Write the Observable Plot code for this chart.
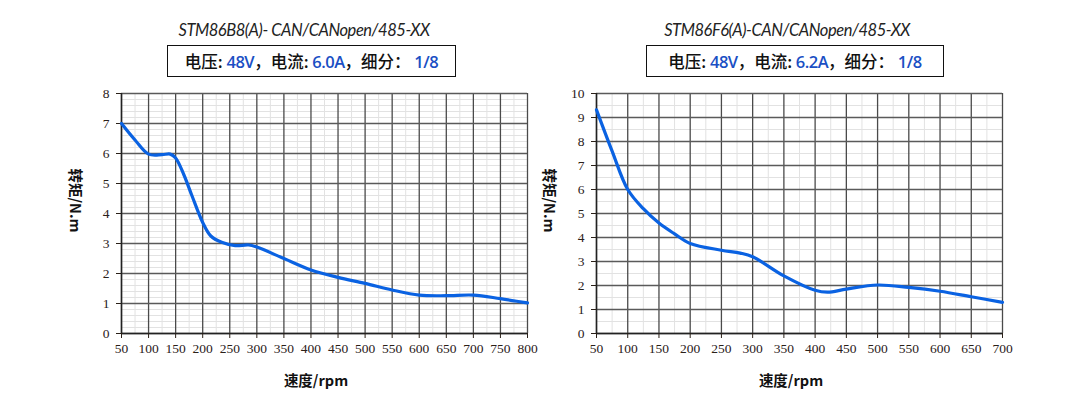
<!DOCTYPE html>
<html><head><meta charset="utf-8">
<script src="https://cdn.jsdelivr.net/npm/d3@7"></script>
<script src="https://cdn.jsdelivr.net/npm/@observablehq/plot@0.6"></script>
<style>
body{margin:0;background:#fff;}
#wrap{position:relative;width:1087px;height:402px;overflow:hidden;background:#fff;font-family:"Noto Sans CJK SC","Noto Sans",sans-serif;}
.title{position:absolute;top:20px;font-family:"Lato","Open Sans",sans-serif;font-style:italic;font-size:16.5px;letter-spacing:-0.45px;color:#222;text-align:center;white-space:nowrap;}
.box{position:absolute;top:45px;height:32px;border:1.3px solid #111;box-sizing:border-box;font-size:16.5px;line-height:30px;text-align:center;color:#111;white-space:nowrap;font-weight:500;}
.box .v{color:#1a4fc4;font-family:"Open Sans","Noto Sans",sans-serif;font-weight:600;letter-spacing:-0.5px;}
.plot{position:absolute;top:85px;}
.ylab{position:absolute;font-weight:bold;font-size:14.5px;color:#111;transform:rotate(90deg);transform-origin:center;white-space:nowrap;}
.xlab{position:absolute;top:369px;font-weight:bold;font-size:14.5px;color:#111;white-space:nowrap;text-align:center;width:200px;}
</style>
</head><body>
<div id="wrap"></div>
<script>
// Chart 1 : STM86B8
const title1 = "STM86B8(A)- CAN/CANopen/485-XX";
const speed1 = [50,75,100,125,140,150,165,180,200,215,235,260,285,300,350,400,450,500,550,600,650,700,750,800];
const torque1 = [7.0,6.45,5.98,5.96,5.98,5.85,5.3,4.6,3.7,3.25,3.04,2.93,2.95,2.88,2.5,2.12,1.87,1.67,1.45,1.28,1.26,1.28,1.16,1.02];
const xTicks1 = [50,100,150,200,250,300,350,400,450,500,550,600,650,700,750,800];
const yTicks1 = [0,1,2,3,4,5,6,7,8];
const params1 = {voltage:"48V", current:"6.0A", step:"1/8"};

// Chart 2 : STM86F6
const title2 = "STM86F6(A)-CAN/CANopen/485-XX";
const speed2 = [50,75,100,125,150,175,200,250,280,300,350,400,420,450,500,550,600,650,700];
const torque2 = [9.32,7.6,6.0,5.2,4.6,4.15,3.75,3.47,3.35,3.2,2.4,1.8,1.72,1.85,2.02,1.92,1.76,1.53,1.3];
const xTicks2 = [50,100,150,200,250,300,350,400,450,500,550,600,650,700];
const yTicks2 = [0,1,2,3,4,5,6,7,8,9,10];
const params2 = {voltage:"48V", current:"6.2A", step:"1/8"};

const xLabel = "速度/rpm";
const yLabel = "转矩/N.m";

const wrap = document.getElementById("wrap");

function makeChart(cfg){
  const {speed, torque, xTicks, yTicks, yMinorStep, left, width, ml, mr, title, params, titleCenter, boxLeft, boxWidth, ylabX, xlabC} = cfg;
  const data = speed.map((s,i)=>({speed:s, torque:torque[i]}));
  const xmin = xTicks[0], xmax = xTicks[xTicks.length-1];
  const ymin = yTicks[0], ymax = yTicks[yTicks.length-1];
  const xMinor = d3.range(xmin+25, xmax, 50);
  const yMinor = d3.range(ymin, ymax+1e-9, yMinorStep).filter(v => Math.abs(v-Math.round(v))>1e-6);
  const chart = Plot.plot({
    width, height:317,
    marginLeft:ml, marginRight:mr, marginTop:8, marginBottom:69,
    x:{domain:[xmin,xmax]},
    y:{domain:[ymin,ymax]},
    style:{fontFamily:"'Liberation Serif','DejaVu Serif',serif", fontSize:"13.5px", color:"#2a2018", background:"transparent"},
    marks:[
      Plot.ruleX(xMinor,{stroke:"#e2e2e2", strokeWidth:1}),
      Plot.ruleY(yMinor,{stroke:"#e2e2e2", strokeWidth:1}),
      Plot.ruleX(xTicks,{stroke:"#4a4a4a", strokeWidth:1.3}),
      Plot.ruleY(yTicks,{stroke:"#5a5a5a", strokeWidth:1.3}),
      Plot.ruleX([xmin],{stroke:"#222", strokeWidth:1.5}),
      Plot.ruleY([ymin],{stroke:"#222", strokeWidth:1.5}),
      Plot.axisX({ticks:xTicks, tickSize:5, tickPadding:5, label:null, tickFormat:d=>String(d), fontSize:13.5}),
      Plot.axisY({ticks:yTicks, tickSize:5, tickPadding:7, label:null, tickFormat:d=>String(d), fontSize:13.5}),
      Plot.line(data,{x:"speed", y:"torque", curve:"catmull-rom", stroke:"#0a62e2", strokeWidth:3.2})
    ]
  });
  const holder = document.createElement("div");
  holder.className = "plot";
  holder.style.left = left+"px";
  holder.appendChild(chart);
  wrap.appendChild(holder);

  const t = document.createElement("div");
  t.className = "title";
  t.style.left = (titleCenter-200)+"px";
  t.style.width = "400px";
  t.textContent = title;
  wrap.appendChild(t);

  const b = document.createElement("div");
  b.className = "box";
  b.style.left = boxLeft+"px";
  b.style.width = boxWidth+"px";
  b.innerHTML = `电压: <span class="v">${params.voltage}</span>，电流: <span class="v">${params.current}</span>，细分： <span class="v">${params.step}</span>`;
  wrap.appendChild(b);

  const yl = document.createElement("div");
  yl.className = "ylab";
  yl.textContent = yLabel;
  wrap.appendChild(yl);
  const w = yl.offsetWidth, h = yl.offsetHeight;
  yl.style.left = (ylabX - w/2)+"px";
  yl.style.top = (200 - h/2)+"px";

  const xl = document.createElement("div");
  xl.className = "xlab";
  xl.style.left = (xlabC-100)+"px";
  xl.textContent = xLabel;
  wrap.appendChild(xl);
}

makeChart({speed:speed1, torque:torque1, xTicks:xTicks1, yTicks:yTicks1, yMinorStep:0.2,
  left:0, width:545, ml:121, mr:18, title:title1, params:params1,
  titleCenter:304, boxLeft:167, boxWidth:289, ylabX:76, xlabC:316});
makeChart({speed:speed2, torque:torque2, xTicks:xTicks2, yTicks:yTicks2, yMinorStep:0.5,
  left:545, width:542, ml:51, mr:85, title:title2, params:params2,
  titleCenter:787, boxLeft:646, boxWidth:298, ylabX:550, xlabC:791});
</script>
</body></html>
